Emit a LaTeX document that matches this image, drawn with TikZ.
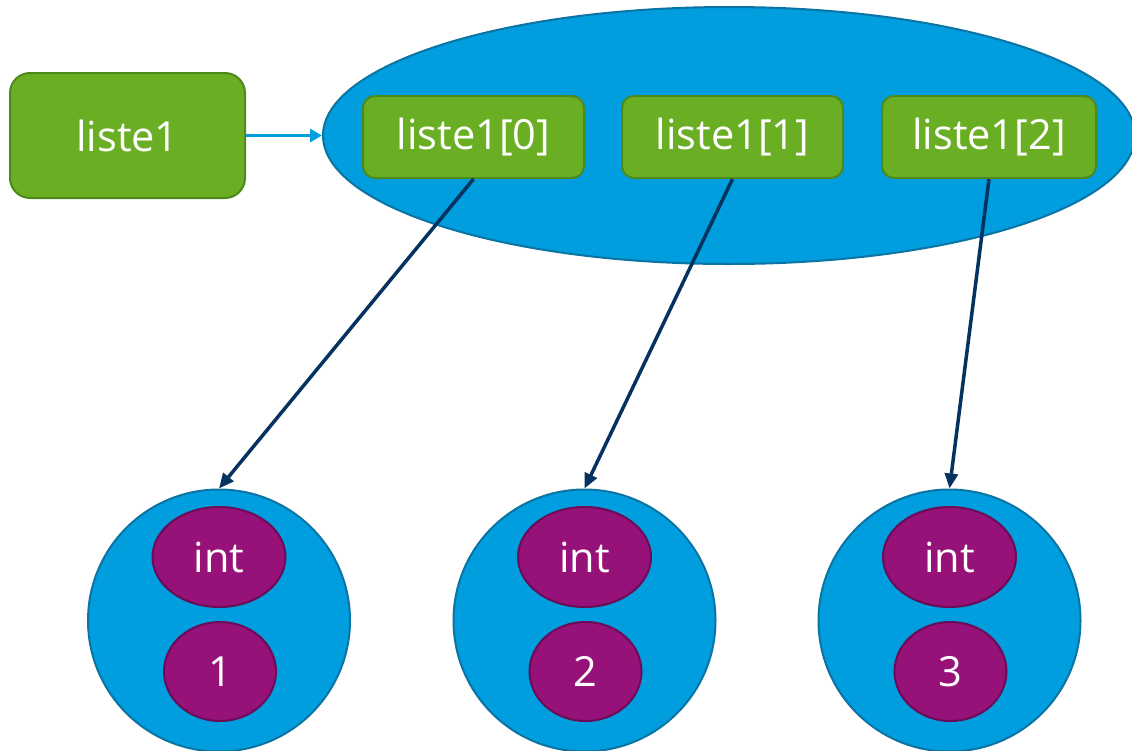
\documentclass[tikz,border=0pt]{standalone}
\usepackage{fontspec}
\setmainfont{Open Sans}
\usetikzlibrary{arrows.meta,shapes.geometric}
\definecolor{leaf}{HTML}{6AAF23}
\definecolor{leafline}{HTML}{4C8A1E}
\definecolor{sky}{HTML}{009DDF}
\definecolor{skyline}{HTML}{0B74A3}
\definecolor{plum}{HTML}{961178}
\definecolor{plumline}{HTML}{6A0C56}
\definecolor{navy}{HTML}{05325E}
\tikzset{
  lbl/.style={text=white,font=\fontsize{41.5}{50}\selectfont,inner sep=0pt},
  varbox/.style={lbl,draw=leafline,fill=leaf,line width=2pt,rounded corners=20pt,
    minimum width=235pt,minimum height=125pt},
  cellbox/.style={lbl,draw=leafline,fill=leaf,line width=2pt,rounded corners=12pt,
    minimum height=82pt},
  container/.style={draw=skyline,fill=sky,line width=2pt,ellipse,inner sep=0pt},
  objcircle/.style={draw=skyline,fill=sky,line width=2pt,circle,inner sep=0pt,minimum size=262pt},
  field/.style={lbl,draw=plumline,fill=plum,line width=2pt,ellipse},
  ref/.style={draw=navy,line width=3.5pt,-{Triangle[length=15pt,width=13pt]}},
  link/.style={draw=sky,line width=3.5pt,-{Triangle[length=12pt,width=13pt]}}
}
\begin{document}
\begin{tikzpicture}[x=1pt,y=-1pt]
\useasboundingbox (0,0) rectangle (1132,750);
% list container and its cells
\node[container,minimum width=812pt,minimum height=257pt] (lst) at (729,135.5) {};
\node[varbox] (var) at (127.5,135.5) {liste1};
\node[cellbox,minimum width=221pt] (c0) at (473.5,137) {liste1[0]};
\node[cellbox,minimum width=221pt] (c1) at (732.5,137) {liste1[1]};
\node[cellbox,minimum width=214pt] (c2) at (989,137) {liste1[2]};
% integer objects
\foreach \i/\cx/\v in {1/219/1,2/584.5/2,3/949.5/3}{
  \node[objcircle] (o\i) at (\cx,620.5) {};
  \node[field,minimum width=133pt,minimum height=100pt] (t\i) at (\cx,557) {int};
  \node[field,minimum width=112pt,minimum height=99pt] (n\i) at (\cx+1,671.5) {\v};
}
% references
\draw[link] (var.east) -- (lst.west);
\draw[ref] (c0.south) -- (o1.north);
\draw[ref] (c1.south) -- (o2.north);
\draw[ref] (c2.south) -- (o3.north);
\end{tikzpicture}
\end{document}
